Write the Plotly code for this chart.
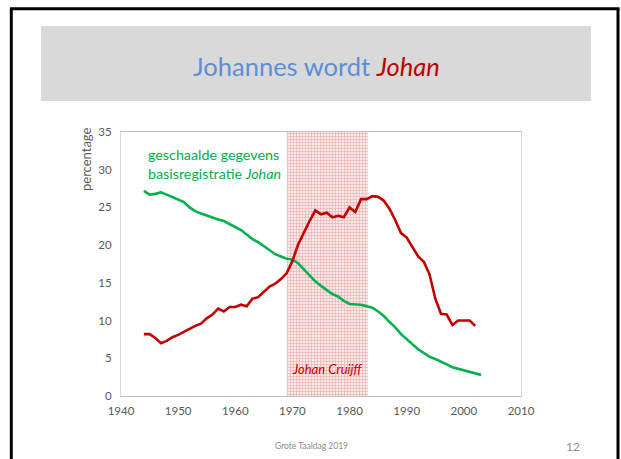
import plotly.graph_objects as go

years_red = list(range(1944, 2003))
johan_pct = [8.2, 8.2, 7.7, 7.0, 7.3, 7.8, 8.1, 8.5, 9.0, 9.3,
             9.6, 10.3, 10.8, 11.6, 11.2, 11.8, 11.8, 12.1, 11.9, 12.9,
             13.1, 13.8, 14.5, 14.9, 15.5, 16.3, 17.9, 20.1, 21.7, 23.2,
             24.6, 24.1, 24.3, 23.7, 23.9, 23.7, 25.0, 24.4, 26.1, 26.1,
             26.5, 26.4, 25.9, 24.8, 23.3, 21.6, 21.0, 19.8, 18.5, 17.8,
             16.1, 12.9, 10.9, 10.8, 9.4, 10.0, 10.0, 10.0, 9.3]

years_green = list(range(1944, 2004))
scaled_pct = [27.2, 26.7, 26.8, 27.0, 26.7, 26.4, 26.1, 25.7, 25.0, 24.5,
              24.2, 23.9, 23.6, 23.4, 23.2, 22.8, 22.4, 22.0, 21.4, 20.8,
              20.4, 19.9, 19.4, 18.8, 18.5, 18.2, 18.1, 17.6, 16.8, 16.0,
              15.2, 14.6, 14.0, 13.5, 13.2, 12.6, 12.2, 12.2, 12.1, 11.9,
              11.7, 11.2, 10.6, 9.8, 9.1, 8.2, 7.5, 6.8, 6.2, 5.7,
              5.2, 4.9, 4.6, 4.2, 3.8, 3.6, 3.35, 3.15, 2.95, 2.8]

cruijff_start = 1969.1
cruijff_end = 1983.3
band_top = 35

x_ticks = [1940, 1950, 1960, 1970, 1980, 1990, 2000, 2010]
y_ticks = [0, 5, 10, 15, 20, 25, 30, 35]

FONT = "Lato"
RED = "#C00000"
GREEN = "#00B050"
GRAY = "#595959"

fig = go.Figure()

fig.add_trace(go.Bar(
    x=[(cruijff_start + cruijff_end) / 2], y=[band_top],
    width=[cruijff_end - cruijff_start],
    marker=dict(color="rgba(255,255,255,0)",
                line=dict(width=0),
                pattern=dict(shape="+", size=3, solidity=0.4,
                             fgcolor="#E37575", bgcolor="#FBEAEA")),
    hoverinfo="skip", showlegend=False))

fig.add_trace(go.Scatter(x=years_green, y=scaled_pct, mode="lines",
                         line=dict(color=GREEN, width=2.6), showlegend=False))
fig.add_trace(go.Scatter(x=years_red, y=johan_pct, mode="lines",
                         line=dict(color=RED, width=2.6), showlegend=False))

# window pixel -> paper coordinates (plot area spans x 121..521, y 132..396)
def px(xp):
    return (xp - 121) / 400.0

def py(yp):
    return (396 - yp) / 264.0

shapes = [
    dict(type="rect", xref="paper", yref="paper", x0=px(41), x1=px(591),
         y0=py(101), y1=py(26), fillcolor="#D9D9D9", line=dict(width=0),
         layer="below"),
    dict(type="line", xref="paper", yref="paper", x0=px(11.3), x1=px(11.3),
         y0=py(480), y1=py(8.7), line=dict(color="black", width=3),
         layer="below"),
    dict(type="line", xref="paper", yref="paper", x0=px(10), x1=px(619.5),
         y0=py(8.7), y1=py(8.7), line=dict(color="black", width=3),
         layer="below"),
    dict(type="line", xref="paper", yref="paper", x0=px(618), x1=px(618),
         y0=py(480), y1=py(8.7), line=dict(color="black", width=3),
         layer="below"),
]

annotations = [
    dict(xref="paper", yref="paper", x=px(316), y=py(66),
         text="Johannes wordt <i><span style='color:%s'>Johan</span></i>" % RED,
         showarrow=False, font=dict(family=FONT, size=25.5, color="#5B8FD6"),
         xanchor="center", yanchor="middle"),
    dict(xref="x", yref="y", x=1944.4, y=30.7,
         text="geschaalde gegevens<br>basisregistratie <i>Johan</i>",
         showarrow=False, align="left", xanchor="left", yanchor="middle",
         font=dict(family=FONT, size=14.3, color=GREEN)),
    dict(xref="x", yref="y", x=1976.1, y=3.6, text="<i>Johan Cruijff</i>",
         showarrow=False, xanchor="center", yanchor="middle",
         font=dict(family=FONT, size=13, color=RED)),
    dict(xref="paper", yref="paper", x=px(86), y=py(159), text="percentage",
         textangle=-90, showarrow=False, xanchor="center", yanchor="middle",
         font=dict(family=FONT, size=13, color=GRAY)),
    dict(xref="paper", yref="paper", x=px(311), y=py(446),
         text="Grote Taaldag 2019", showarrow=False,
         font=dict(family=FONT, size=8.5, color="#8C8C8C"),
         xanchor="center", yanchor="middle"),
    dict(xref="paper", yref="paper", x=px(573), y=py(446), text="12",
         showarrow=False, font=dict(family=FONT, size=12, color="#8C8C8C"),
         xanchor="center", yanchor="middle"),
]

fig.update_layout(
    width=621, height=459,
    margin=dict(l=121, r=100, t=132, b=63),
    paper_bgcolor="white", plot_bgcolor="white",
    font=dict(family=FONT, color=GRAY, size=11),
    shapes=shapes, annotations=annotations,
    bargap=0,
    xaxis=dict(range=[1940, 2010], tickvals=x_ticks,
               ticktext=[str(v) for v in x_ticks],
               showgrid=False, zeroline=False, showline=True,
               linecolor="#BFBFBF", linewidth=1, mirror=True,
               ticks="", ticklabelstandoff=4,
               tickfont=dict(size=11.5, color=GRAY)),
    yaxis=dict(range=[0, 35], tickvals=y_ticks,
               ticktext=[str(v) for v in y_ticks],
               showgrid=False, zeroline=False, showline=True,
               linecolor="#D9D9D9", linewidth=1, mirror=True,
               ticks="", ticklabelstandoff=6,
               tickfont=dict(size=11.5, color=GRAY)),
)

fig.write_html(
    "out.html",
    config={"displayModeBar": False},
    post_script="document.body.style.margin='0';"
                "document.documentElement.style.overflow='hidden';",
)
